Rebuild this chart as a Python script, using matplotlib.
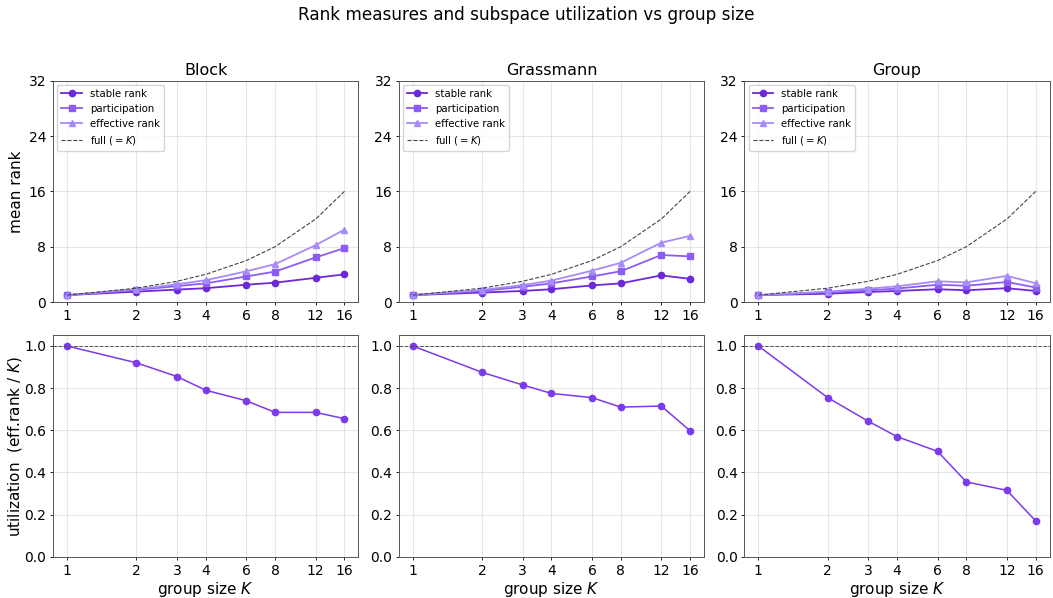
import matplotlib
matplotlib.use("Agg")
import matplotlib.pyplot as plt
import numpy as np

K = [1, 2, 3, 4, 6, 8, 12, 16]
methods = ["Block", "Grassmann", "Group"]

stable_rank = {
    "Block": [1.0, 1.5, 1.8, 2.0, 2.5, 2.8, 3.5, 4.0],
    "Grassmann": [1.0, 1.37, 1.6, 1.85, 2.4, 2.7, 3.85, 3.35],
    "Group": [1.0, 1.2, 1.45, 1.6, 1.85, 1.7, 2.0, 1.6],
}
participation = {
    "Block": [1.0, 1.75, 2.3, 2.7, 3.7, 4.4, 6.45, 7.8],
    "Grassmann": [1.0, 1.6, 2.2, 2.7, 3.7, 4.45, 6.8, 6.6],
    "Group": [1.0, 1.4, 1.7, 1.95, 2.5, 2.35, 2.9, 2.1],
}
utilization = {
    "Block": [1.0, 0.92, 0.855, 0.79, 0.74, 0.685, 0.685, 0.655],
    "Grassmann": [1.0, 0.875, 0.815, 0.775, 0.755, 0.71, 0.715, 0.598],
    "Group": [1.0, 0.755, 0.643, 0.57, 0.50, 0.355, 0.315, 0.17],
}

c_stable = "#6d28d9"
c_part = "#8b5cf6"
c_eff = "#a78bfa"
c_util = "#7c3aed"

plt.rcParams["axes.edgecolor"] = "#555555"
plt.rcParams["axes.linewidth"] = 0.7
plt.rcParams["xtick.labelsize"] = 10
plt.rcParams["ytick.labelsize"] = 10
plt.rcParams["xtick.major.size"] = 2.5
plt.rcParams["ytick.major.size"] = 2.5
plt.rcParams["xtick.major.pad"] = 2.5
plt.rcParams["ytick.major.pad"] = 2.5
plt.rcParams["xtick.major.width"] = 0.6
plt.rcParams["ytick.major.width"] = 0.6

fig, axes = plt.subplots(2, 3, figsize=(10.53, 5.98), dpi=100)
fig.suptitle("Rank measures and subspace utilization vs group size", fontsize=12.2, y=0.99)

k = np.array(K)
for j, m in enumerate(methods):
    eff = np.array(utilization[m]) * k

    ax = axes[0, j]
    ax.plot(K, stable_rank[m], "-o", color=c_stable, ms=4.5, lw=1.3, label="stable rank")
    ax.plot(K, participation[m], "-s", color=c_part, ms=4.5, lw=1.3, label="participation")
    ax.plot(K, eff, "-^", color=c_eff, ms=4.5, lw=1.3, label="effective rank")
    ax.plot(K, K, "--", color="#444444", lw=0.8, label="full ($=K$)")
    ax.set_xscale("log")
    ax.set_xticks(K)
    ax.set_xticklabels([str(v) for v in K])
    ax.minorticks_off()
    ax.set_ylim(0, 32)
    ax.set_yticks([0, 8, 16, 24, 32])
    ax.set_title(m, fontsize=11.5, pad=4)
    ax.grid(True, alpha=0.3)
    ax.legend(loc="upper left", fontsize=7.3, borderaxespad=0.4)
    if j == 0:
        ax.set_ylabel("mean rank", fontsize=11, labelpad=0)

    ax = axes[1, j]
    ax.plot(K, utilization[m], "-o", color=c_util, ms=4.5, lw=1.1)
    ax.axhline(1.0, color="#555555", ls="--", lw=0.7)
    ax.set_xscale("log")
    ax.set_xticks(K)
    ax.set_xticklabels([str(v) for v in K])
    ax.minorticks_off()
    ax.set_ylim(0, 1.05)
    ax.grid(True, alpha=0.3)
    ax.set_xlabel("group size $K$", fontsize=11, labelpad=2)
    if j == 0:
        ax.set_ylabel("utilization  (eff.rank / $K$)", fontsize=11, labelpad=0)

fig.subplots_adjust(left=0.0506, right=0.9967, top=0.865, bottom=0.069,
                    wspace=0.133, hspace=0.151)
fig.align_ylabels(axes[:, 0])
fig.savefig("out.png", dpi=100)
